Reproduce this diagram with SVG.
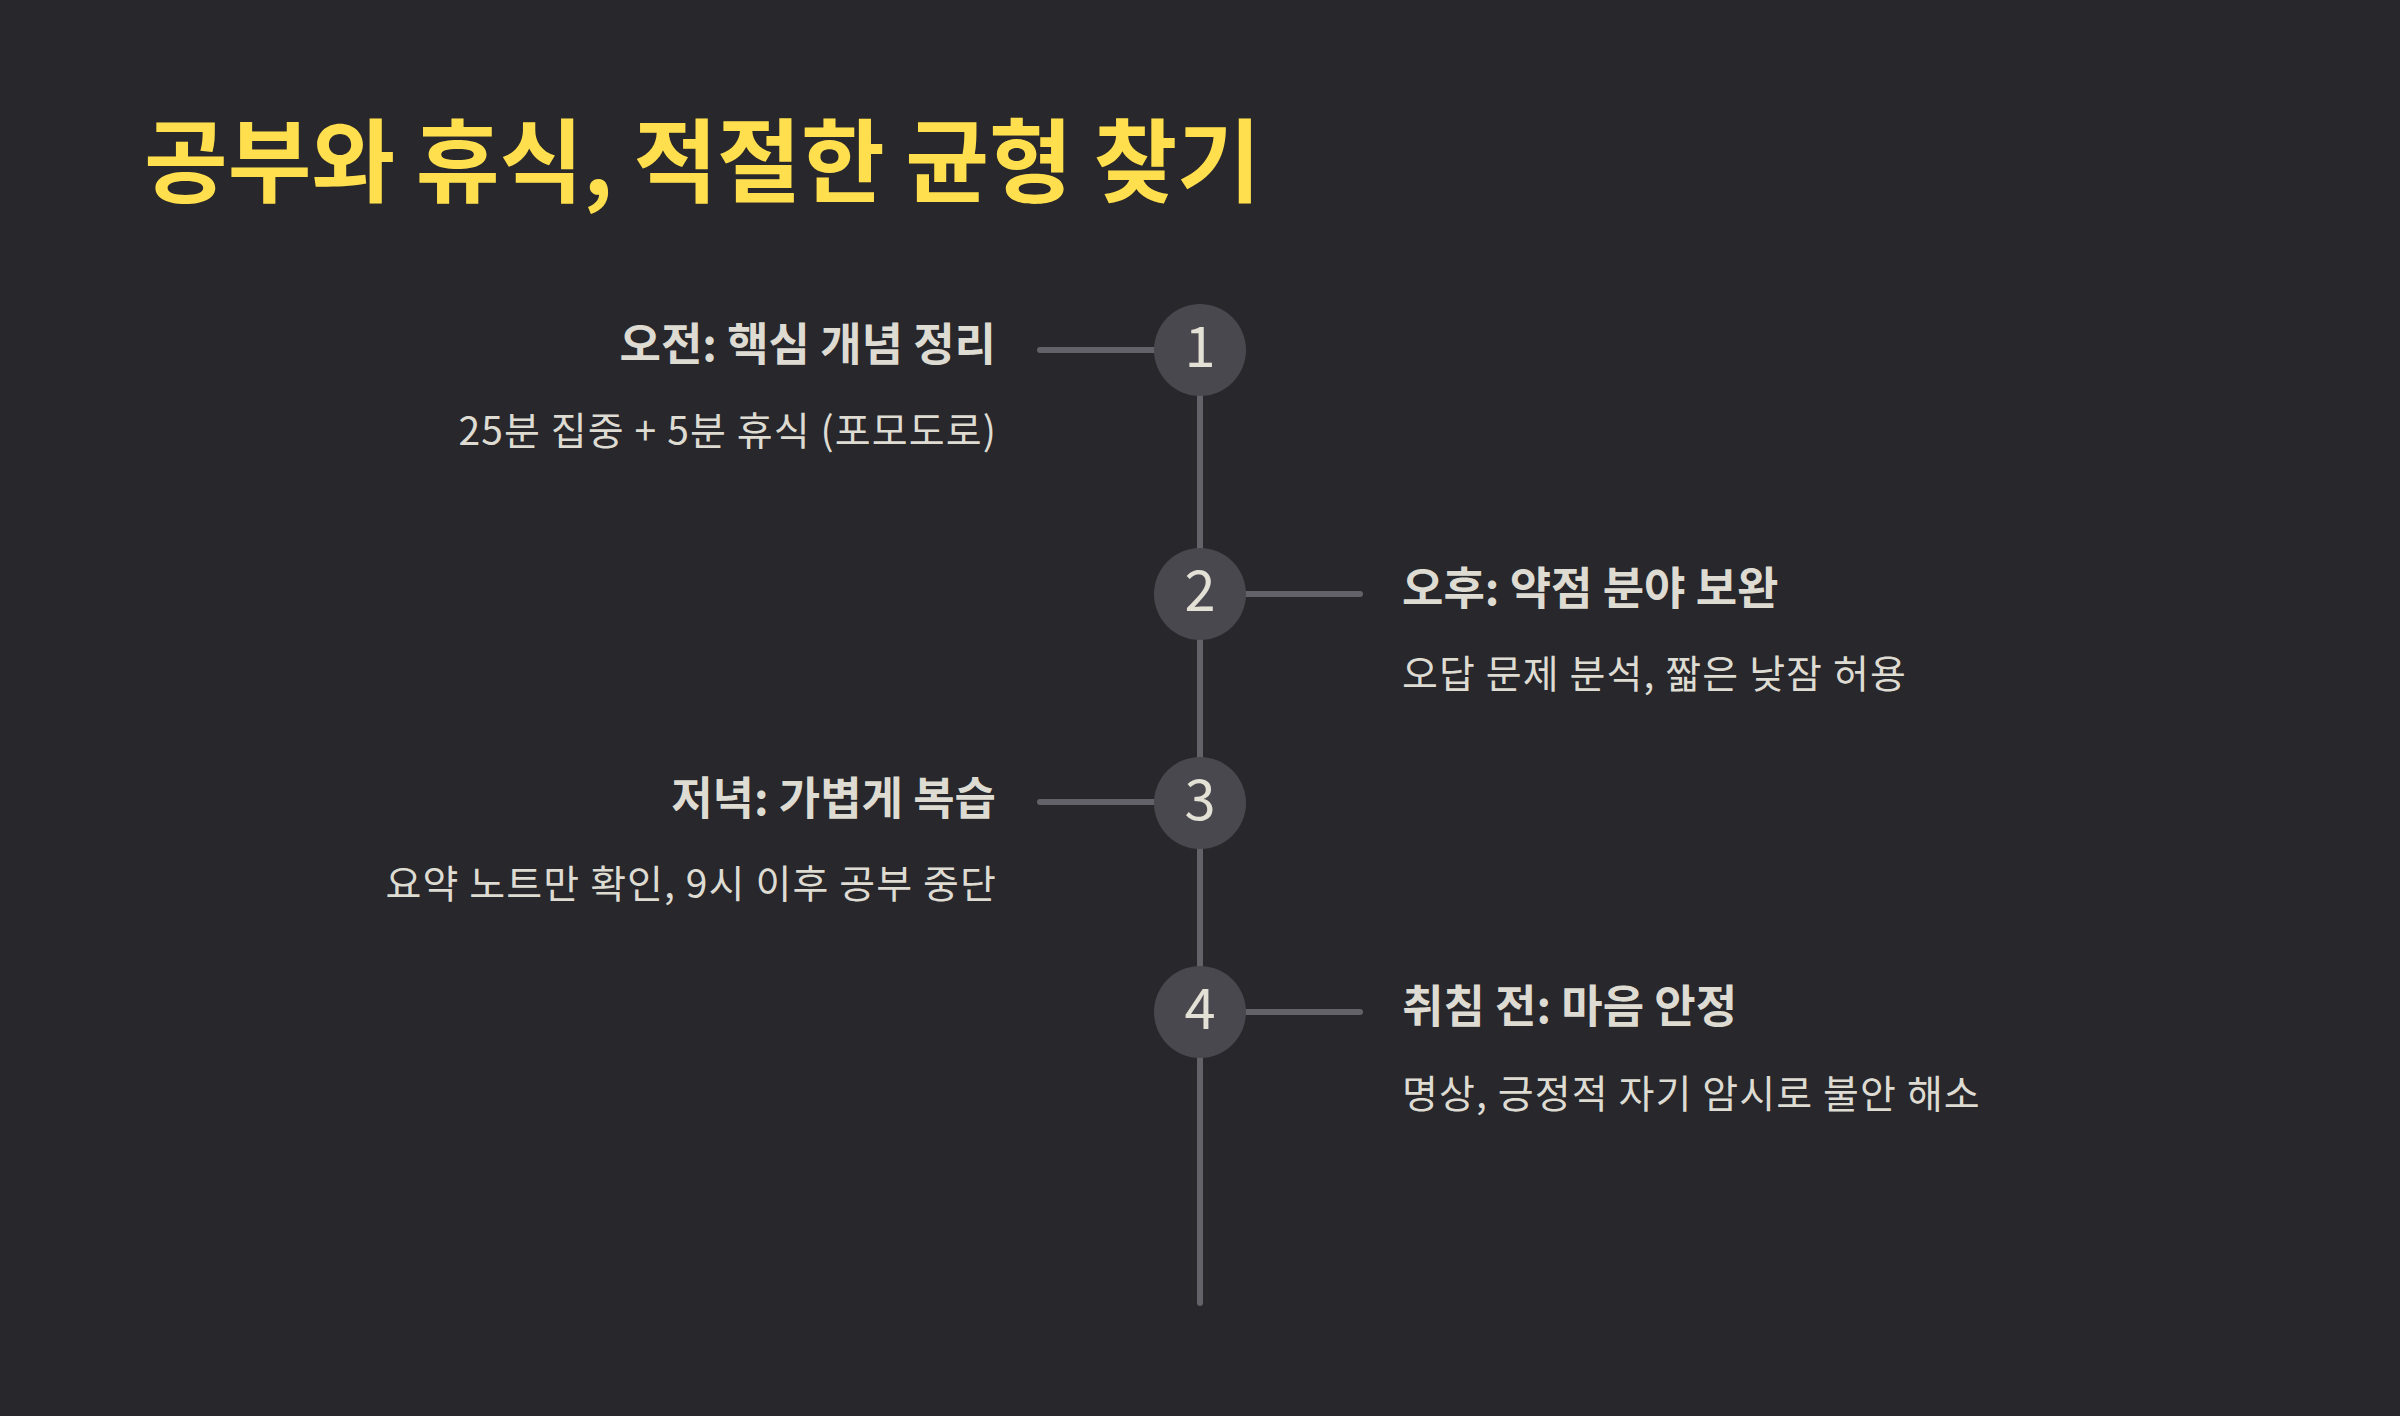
<svg xmlns="http://www.w3.org/2000/svg" width="2400" height="1416" viewBox="0 0 2400 1416">
<style>
.bg{fill:#27272c}
.title{font-family:"Noto Sans CJK KR","Noto Sans",sans-serif;font-size:91px;font-weight:700;fill:#ffdf4d}
.head{font-family:"Noto Sans CJK KR","Noto Sans",sans-serif;font-size:45px;font-weight:700;fill:#dedbd2}
.sub{font-family:"Noto Sans CJK KR","Noto Sans",sans-serif;font-size:39px;font-weight:400;letter-spacing:1.1px;fill:#dedbd2}
.num{font-family:"Noto Sans CJK KR","Noto Sans",sans-serif;font-size:56px;font-weight:400;fill:#e3e0d6;text-anchor:middle}
.dot{fill:#48484e}
.ln{stroke:#626268;stroke-width:6;stroke-linecap:round;fill:none}
.l{text-anchor:end}
</style>
<rect class="bg" x="0" y="0" width="2400" height="1416"/>
<text class="title" x="144" y="195">공부와 휴식, 적절한 균형 찾기</text>
<g id="connectors">
<line class="ln" x1="1200" y1="350" x2="1200" y2="1303"/>
<line class="ln" x1="1040" y1="350" x2="1160" y2="350"/>
<line class="ln" x1="1240" y1="594" x2="1360" y2="594"/>
<line class="ln" x1="1040" y1="802" x2="1160" y2="802"/>
<line class="ln" x1="1240" y1="1012" x2="1360" y2="1012"/>
</g>
<g id="step1">
<circle class="dot" cx="1200" cy="350" r="46"/>
<text class="num" x="1200" y="367">1</text>
<text class="head l" x="996" y="361">오전: 핵심 개념 정리</text>
<text class="sub l" x="997" y="445">25분 집중 + 5분 휴식 (포모도로)</text>
</g>
<g id="step2">
<circle class="dot" cx="1200" cy="594" r="46"/>
<text class="num" x="1200" y="611">2</text>
<text class="head" x="1402" y="605">오후: 약점 분야 보완</text>
<text class="sub" x="1402" y="688">오답 문제 분석, 짧은 낮잠 허용</text>
</g>
<g id="step3">
<circle class="dot" cx="1200" cy="803" r="46"/>
<text class="num" x="1200" y="820">3</text>
<text class="head l" x="996" y="815">저녁: 가볍게 복습</text>
<text class="sub l" x="997" y="898">요약 노트만 확인, 9시 이후 공부 중단</text>
</g>
<g id="step4">
<circle class="dot" cx="1200" cy="1012" r="46"/>
<text class="num" x="1200" y="1029">4</text>
<text class="head" x="1402" y="1023">취침 전: 마음 안정</text>
<text class="sub" x="1402" y="1108">명상, 긍정적 자기 암시로 불안 해소</text>
</g>
</svg>
